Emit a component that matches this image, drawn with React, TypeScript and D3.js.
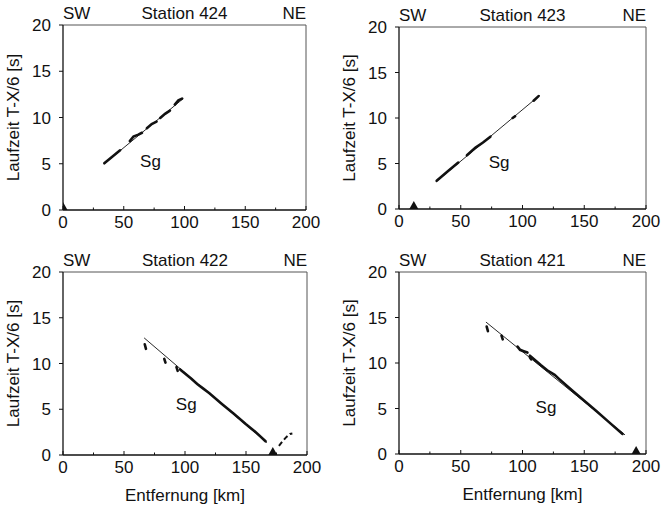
import React from 'react';
import * as d3 from 'd3';

type Pt = [number, number];

const xTicks = [0, 50, 100, 150, 200];
const xMinorTicks = [25, 75, 125, 175];
const yTicks = [0, 5, 10, 15, 20];
const stationNames = ['Station 424', 'Station 423', 'Station 422', 'Station 421'];
const shotPositions = [0, 12, 172, 192];
const phaseLabel = 'Sg';
const phaseLabelPos: Pt[] = [[72, 5.3], [81, 5.2], [101, 5.6], [119, 5.2]];

const fitLines: Pt[][] = [
  [[34, 5.0], [99, 12.05]],
  [[30.5, 3.05], [114, 12.5]],
  [[66.5, 12.8], [167, 1.35]],
  [[70.4, 14.5], [183, 2.1]],
];

const picks424: Pt[][] = [
  [[34, 5.05], [40, 5.7], [47, 6.45]],
  [[55, 7.45], [58, 7.95], [62, 8.15], [65, 8.35]],
  [[69, 8.85], [73, 9.3], [77, 9.55]],
  [[80, 9.95], [84, 10.4], [88, 10.75]],
  [[92, 11.4], [95, 11.85], [98, 12.05]],
];
const picks423: Pt[][] = [
  [[30.5, 3.1], [40, 4.2], [48, 5.1]],
  [[55, 5.9], [62, 6.75], [68, 7.3], [74, 7.95]],
  [[92, 10.0], [94, 10.2]],
  [[109, 11.9], [113, 12.4]],
];
const picks422: Pt[][] = [
  [[67, 12.1], [68, 11.6]],
  [[83, 10.5], [84, 10.1]],
  [[93, 9.6], [94, 9.2]],
  [[96, 9.35], [100, 8.9], [105, 8.35], [110, 7.75], [115, 7.25], [120, 6.75], [130, 5.6], [140, 4.5], [150, 3.35], [158, 2.5], [166, 1.5]],
];
const picks421: Pt[][] = [
  [[71, 14.0], [72, 13.5]],
  [[83, 13.0], [84, 12.6]],
  [[96, 11.8], [98, 11.45], [101, 11.3], [104, 11.15]],
  [[106, 10.6], [107, 10.4]],
  [[106, 10.8], [115, 9.75], [120, 9.2], [126, 8.7], [130, 8.2], [140, 7.0], [150, 5.85], [160, 4.7], [170, 3.5], [181, 2.2]],
];
const picksBySt = [picks424, picks423, picks422, picks421];
const dashedPicks: (Pt[] | null)[] = [
  null,
  null,
  [[177, 1.0], [180, 1.5], [183, 1.95], [186, 2.3], [188, 2.35]],
  null,
];

const panels = [
  { left: 63, top: 25, width: 243, height: 185, xLabel: false },
  { left: 399, top: 27, width: 247, height: 182, xLabel: false },
  { left: 63, top: 272, width: 244, height: 183, xLabel: true },
  { left: 399, top: 272, width: 247, height: 182, xLabel: true },
];

const FONT = "'Liberation Sans', Arial, Helvetica, sans-serif";
const FS = 17;

function Panel({ idx }: { idx: number }) {
  const p = panels[idx];
  const x = d3.scaleLinear().domain([0, 200]).range([0, p.width]);
  const y = d3.scaleLinear().domain([0, 20]).range([p.height, 0]);
  const line = d3.line<Pt>().x(d => x(d[0])).y(d => y(d[1]));
  const clipId = `clip${idx}`;
  const sx = x(shotPositions[idx]);
  const tri = `M${sx - 4.5},${p.height} L${sx},${p.height - 8} L${sx + 4.5},${p.height} Z`;
  const dp = dashedPicks[idx];
  return (
    <g transform={`translate(${p.left},${p.top})`} fontFamily={FONT} fill="#111">
      <defs>
        <clipPath id={clipId}>
          <rect x={0} y={0} width={p.width} height={p.height} />
        </clipPath>
      </defs>
      {/* frame */}
      <line x1={0} y1={0} x2={p.width} y2={0} stroke="#555" strokeWidth={1} />
      <line x1={p.width} y1={0} x2={p.width} y2={p.height} stroke="#555" strokeWidth={1} />
      <line x1={0} y1={0} x2={0} y2={p.height} stroke="#111" strokeWidth={1.3} />
      <line x1={0} y1={p.height} x2={p.width} y2={p.height} stroke="#111" strokeWidth={1.3} />
      {/* x ticks */}
      {xTicks.map(t => (
        <g key={'xt' + t}>
          <line x1={x(t)} x2={x(t)} y1={p.height} y2={p.height - 4} stroke="#111" strokeWidth={1} />
          <text x={x(t)} y={p.height + 18} textAnchor="middle" fontSize={FS}>{t}</text>
        </g>
      ))}
      {xMinorTicks.map(t => (
        <line key={'xm' + t} x1={x(t)} x2={x(t)} y1={p.height} y2={p.height - 2.5} stroke="#111" strokeWidth={1} />
      ))}
      {yTicks.map(t => (
        <g key={'yt' + t}>
          <line x1={-4} x2={0} y1={y(t)} y2={y(t)} stroke="#111" strokeWidth={1} />
          <text x={-12} y={y(t) + 6} textAnchor="end" fontSize={FS}>{t}</text>
        </g>
      ))}
      {/* titles */}
      <text x={0} y={-6} fontSize={FS}>SW</text>
      <text x={p.width / 2} y={-6} fontSize={FS} textAnchor="middle">{stationNames[idx]}</text>
      <text x={p.width} y={-6} fontSize={FS} textAnchor="end">NE</text>
      <text transform={`translate(${-44},${p.height / 2}) rotate(-90)`} textAnchor="middle" fontSize={FS}>Laufzeit T-X/6 [s]</text>
      {p.xLabel && (
        <text x={p.width / 2} y={p.height + 46} textAnchor="middle" fontSize={FS}>Entfernung [km]</text>
      )}
      {/* data */}
      <g clipPath={`url(#${clipId})`}>
        <path d={line(fitLines[idx]) || ''} fill="none" stroke="#111" strokeWidth={0.9} />
        {picksBySt[idx].map((seg, i) => (
          <path key={i} d={line(seg) || ''} fill="none" stroke="#111" strokeWidth={2.6} strokeLinecap="round" />
        ))}
        {dp && (
          <path d={line(dp) || ''} fill="none" stroke="#111" strokeWidth={2} strokeDasharray="5,3" />
        )}
        <path d={tri} fill="#111" />
      </g>
      <text x={x(phaseLabelPos[idx][0])} y={y(phaseLabelPos[idx][1]) + 6} textAnchor="middle" fontSize={FS}>{phaseLabel}</text>
    </g>
  );
}

export default function App() {
  return (
    <svg width={662} height={509} style={{ position: 'absolute', left: 0, top: 0, background: '#fff' }}>
      <rect x={0} y={0} width={662} height={509} fill="#fff" />
      {panels.map((_, i) => <Panel key={i} idx={i} />)}
    </svg>
  );
}
